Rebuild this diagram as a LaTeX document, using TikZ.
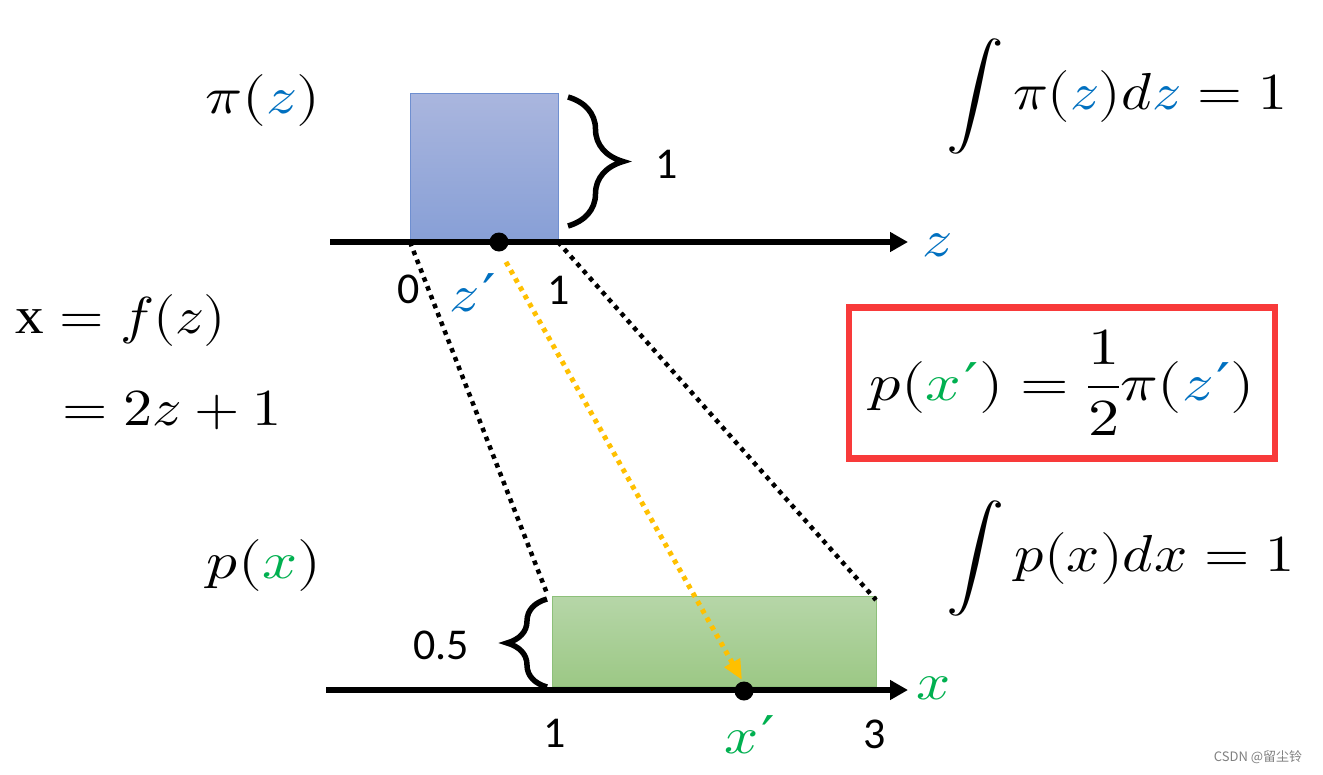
\documentclass[tikz,border=0pt]{standalone}
\usepackage{graphicx}
\usepackage{fontspec}
\usepackage{unicode-math}
\setmainfont{Carlito}
\setmathfont{Latin Modern Math}
\newfontfamily\cjk{Noto Sans CJK SC}
\newfontfamily\serif{Liberation Serif}
\newfontfamily\dvs{DejaVu Serif}
\newcommand\pr{\mkern1mu\hbox{\dvs\char"2032}}
\newcommand\wx[2]{\scalebox{#1}[1]{#2}}
\usetikzlibrary{arrows.meta,decorations.pathreplacing}
\definecolor{zblue}{HTML}{0070C0}
\definecolor{xgreen}{HTML}{00B050}
\definecolor{gold}{HTML}{FFC000}
\definecolor{boxred}{HTML}{F83A3A}
\definecolor{btop}{RGB}{170,182,222}
\definecolor{bbot}{RGB}{135,159,214}
\definecolor{bedge}{RGB}{111,143,208}
\definecolor{gtop}{RGB}{182,214,168}
\definecolor{gbot}{RGB}{156,200,133}
\definecolor{gedge}{RGB}{141,192,122}
\tikzset{
  axis/.style={line width=6pt,-{Triangle[length=18pt,width=19pt]}},
  proj/.style={line width=4.5pt,dash pattern=on 4.5pt off 5pt},
  brc/.style={line width=5.5pt,decorate},
  dotnode/.style={circle,fill=black,inner sep=0pt,minimum size=19pt},
  num/.style={font=\fontsize{44}{48}\selectfont},
  eq/.style={font=\fontsize{52}{58}\selectfont,inner sep=0pt},
}
\begin{document}
\begin{tikzpicture}[x=1pt,y=-1pt]
\useasboundingbox (0,0) rectangle (1323,774);
\fill[white] (0,0) rectangle (1323,774);
% top rectangle
\shade[top color=btop,bottom color=bbot] (410,93) rectangle (558,242);
\draw[line width=1pt,bedge] (410,93) rectangle (558,242);
\node[coordinate] (tl) at (410,242) {};
\node[coordinate] (tr) at (558,242) {};
% bottom rectangle
\shade[top color=gtop,bottom color=gbot] (552,596) rectangle (876,686);
\draw[line width=1pt,gedge] (552,596) rectangle (876,686);
\node[coordinate] (bl) at (548,596) {};
\node[coordinate] (br) at (876,600) {};
% axes
\node[coordinate] (za) at (330,242) {};
\node[coordinate] (zb) at (908,242) {};
\node[coordinate] (xa) at (326,690) {};
\node[coordinate] (xb) at (908,690) {};
\draw[axis] (za) -- (zb);
\draw[axis] (xa) -- (xb);
% projection lines
\draw[proj] (tl) -- (bl);
\draw[proj] (tr) -- (br);
\node[dotnode] (zp) at (499,242) {};
\node[dotnode] (xp) at (744,691) {};
\node[coordinate] (ys) at (506,262) {};
\node[coordinate] (ye) at (742,680) {};
\draw[proj,line width=5pt,gold,-{Triangle[length=20pt,width=17pt]}] (ys) -- (ye);
% braces
\draw[brc,decoration={brace,amplitude=55pt}] (568,97) -- (568,226);
\draw[brc,decoration={brace,amplitude=40pt}] (547,687) -- (547,599);
\node[num] (one) at (667,164) {1};
\node[num] (half) at (441,645) {0.5};
% axis labels
\node[num] (z0) at (409,289) {0};
\node[num] (z1) at (559,290) {1};
\node[eq] (zpl) at (473,293) {\wx{1.15}{$\color{zblue}z\pr$}};
\node[eq] (zl) at (937,245) {\wx{1.15}{$\color{zblue}z$}};
\node[num] (x1) at (555,733) {1};
\node[num] (x3) at (875,734) {3};
\node[eq] (xpl) at (750,735) {\wx{1.15}{$\color{xgreen}x\pr$}};
\node[eq] (xl) at (934,688) {\wx{1.15}{$\color{xgreen}x$}};
% density labels
\node[eq] (piz) at (263,100) {\wx{1.18}{$\pi(\color{zblue}z\color{black})$}};
\node[eq] (px) at (264,565) {\wx{1.18}{$p(\color{xgreen}x\color{black})$}};
% integrals
\node[eq,anchor=west] (intz) at (946,96) {\wx{1.11}{$\displaystyle\int \pi(\color{zblue}z\color{black})d\color{zblue}z\color{black} = 1$}};
\node[eq,anchor=west] (intx) at (946,558) {\wx{1.12}{$\displaystyle\int p(x)dx = 1$}};
% map
\node[eq,anchor=west] (fz) at (15,320) {\wx{1.1}{$\hbox{\serif x} = f(z)$}};
\node[eq,anchor=west] (fz2) at (62,410) {\wx{1.12}{$= 2z + 1$}};
% red box
\node[draw=boxred,line width=6.5pt,minimum width=426pt,minimum height=151pt,eq] (res) at (1062,383)
  {\wx{1.2}{$\displaystyle p(\color{xgreen}x\pr\color{black}) = \frac{1}{2}\pi(\color{zblue}z\pr\color{black})$}};
% watermark
\node[font=\cjk\fontsize{13}{15}\selectfont,text=gray] (wm) at (1258,757) {CSDN @留尘铃};
\end{tikzpicture}
\end{document}
